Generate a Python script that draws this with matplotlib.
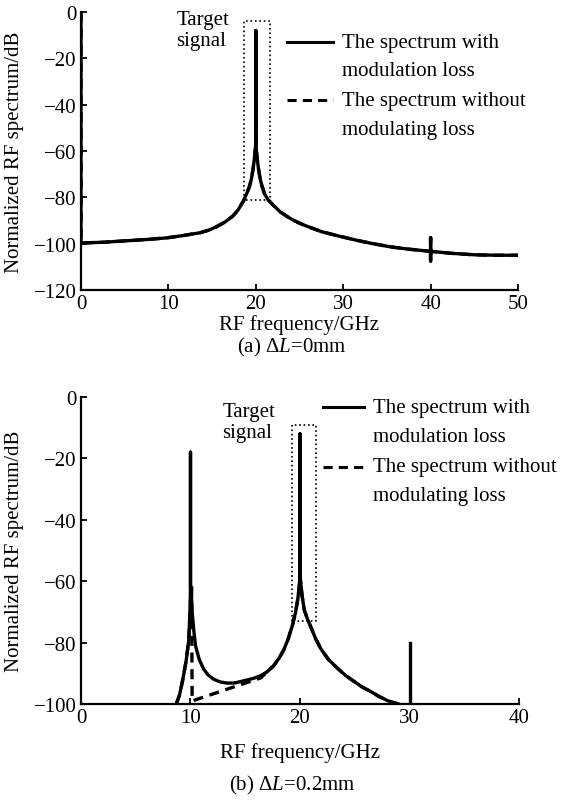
import matplotlib
matplotlib.use('Agg')
import matplotlib.pyplot as plt
import numpy as np

plt.rc('font', family='Liberation Serif', size=15)
plt.rc('mathtext', fontset='custom', rm='Liberation Serif',
       it='Liberation Serif:italic')

# (a) dL = 0 mm : spectrum (GHz, dB)
freq_a = [0, 0, 2.5, 5, 7.5, 9.8, 11.5, 13.6, 14.6, 15.5, 16.5, 17.4, 18.0,
          18.6, 19.0, 19.3, 19.5, 19.7, 19.85, 19.95, 20, 20, 20,
          20.05, 20.15, 20.3, 20.5, 20.7, 21.0, 21.4, 21.9, 22.8, 23.8, 24.8,
          25.8, 27.5, 29.6, 31.5, 33.4, 35.3, 37.3, 40, 40, 40, 40,
          42.5, 45, 47.5, 50]
db_a = [0, -99.7, -99.4, -98.8, -98.2, -97.5, -96.6, -95.3, -94.2, -92.7,
        -90.6, -88, -85.3, -81.5, -78, -75, -72, -67.5, -63, -59, -57, -8, -57,
        -59, -63, -67.5, -72, -75, -78.5, -81, -83, -86.3, -88.8, -90.8,
        -92.4, -94.8, -96.8, -98.5, -100, -101.3, -102.3, -103.3, -97.5,
        -107.5, -103.3, -104.2, -104.8, -105, -105]
box_a_x = [18.6, 21.6]
box_a_y = [-81, -4]

# (b) dL = 0.2 mm
freq_b = [8.7, 9.0, 9.3, 9.6, 9.85, 9.95, 10.0, 10.0, 10.0, 10.05, 10.15,
          10.3, 10.46, 10.8, 11.2, 11.6, 12.1, 12.7, 13.4, 14.1, 14.9, 15.7,
          16.4, 17.0, 17.6, 18.1, 18.5, 18.9, 19.3, 19.6, 19.8, 19.95, 20.0,
          20.0, 20.0, 20.05, 20.2, 20.4, 20.7, 21.0, 21.4, 21.9, 22.6, 23.5,
          24.2, 25.0, 25.7, 26.5, 27.2, 28.0, 28.5, 29.0]
db_b = [-100, -97, -92, -86, -79, -70, -62, -18, -62, -62, -70,
        -76, -81, -85.5, -88.6, -90.5, -91.9, -92.8, -93.2, -93.1, -92.4, -91.7,
        -90.8, -89.5, -87.5, -85, -82.5, -79, -74.5, -70, -65.8, -61, -58,
        -12, -58, -60, -65, -69.5, -72.5, -75, -78.5, -82, -85.5, -88.6,
        -90.8, -92.8, -94.5, -96, -97.5, -98.9, -99.5, -100]
freq_b_nl = [8.7, 9.0, 9.3, 9.6, 9.85, 9.95, 10.1, 10.15, 16.4, 17.0, 17.6,
             18.1, 18.5, 18.9, 19.3, 19.6, 19.8, 19.95, 20.0, 20.05, 20.2,
             20.4, 20.7, 21.0, 21.4, 21.9, 22.6, 23.5, 24.2, 25.0, 25.7, 26.5,
             27.2, 28.0, 28.5, 29.0]
db_b_nl = [-100, -97, -92, -86, -79, -70, -62, -99, -91.5, -89.5, -87.5,
           -85, -82.5, -79, -74.5, -70, -65.8, -61, -58, -60, -65,
           -69.5, -72.5, -75, -78.5, -82, -85.5, -88.6, -90.8, -92.8, -94.5, -96,
           -97.5, -98.9, -99.5, -100]
spur_b_x = [30, 30]
spur_b_y = [-100, -80]
box_b_x = [19.3, 21.5]
box_b_y = [-73, -9]

lab_with = 'The spectrum with\nmodulation loss'
lab_without = 'The spectrum without\nmodulating loss'


def style(ax):
    for s in ['top', 'right']:
        ax.spines[s].set_visible(False)
    for s in ['left', 'bottom']:
        ax.spines[s].set_linewidth(1.6)
    ax.tick_params(direction='in', length=4, width=1.3, pad=3)


def draw_box(ax, bx, by):
    ax.plot([bx[0], bx[0], bx[1], bx[1], bx[0]],
            [by[0], by[1], by[1], by[0], by[0]],
            ls=':', color='black', lw=1.2)


def legend(ax, x0, x1, xt, ys):
    ax.plot([x0, x1], [ys[0], ys[0]], '-', color='black', lw=2.2,
            transform=ax.transAxes, clip_on=False)
    ax.plot([x0, x1], [ys[2], ys[2]], '--', color='black', lw=2.2,
            dashes=(3, 2), transform=ax.transAxes, clip_on=False)
    for y, t in zip(ys, lab_with.split('\n') + lab_without.split('\n')):
        ax.text(xt, y, t, transform=ax.transAxes, va='center', ha='left')


fig = plt.figure(figsize=(5.62, 8.03), dpi=100)

# ---- (a)
ax1 = fig.add_axes([0.1441, 0.6376, 0.7776, 0.3462])
ax1.plot(freq_a, db_a, '--', color='black', lw=2.4, dashes=(3, 2))
ax1.plot(freq_a, db_a, '-', color='black', lw=2.4)
draw_box(ax1, box_a_x, box_a_y)
ax1.set_xlim(0, 50)
ax1.set_ylim(-120, 0)
ax1.set_xticks(np.arange(0, 51, 10))
ax1.set_yticks(np.arange(-120, 1, 20))
style(ax1)
ax1.text(10.9, 0.8, 'Target\nsignal', va='top', ha='left', linespacing=1.15)
legend(ax1, 0.471, 0.577, 0.597, [0.892, 0.788, 0.683, 0.579])
ax1.set_xlabel('RF frequency/GHz')
ax1.set_ylabel('Normalized RF spectrum/dB')
ax1.xaxis.set_label_coords(0.5, -0.085)
ax1.yaxis.set_label_coords(-0.13, 0.5)
fig.text(0.52, 1 - 347 / 803, r'(a) $\Delta L$=0mm', ha='center', va='center')

# ---- (b)
ax2 = fig.add_axes([0.1441, 0.1220, 0.7794, 0.3824])
ax2.plot(freq_b, db_b, '-', color='black', lw=2.4)
ax2.plot(spur_b_x, spur_b_y, '-', color='black', lw=2.4)
ax2.plot(freq_b_nl, db_b_nl, '--', color='black', lw=2.4, dashes=(3, 2))
draw_box(ax2, box_b_x, box_b_y)
ax2.set_xlim(0, 40)
ax2.set_ylim(-100, 0)
ax2.set_xticks(np.arange(0, 41, 10))
ax2.set_yticks(np.arange(-100, 1, 20))
style(ax2)
ax2.text(12.9, -1.5, 'Target\nsignal', va='top', ha='left', linespacing=1.15)
legend(ax2, 0.552, 0.647, 0.666, [0.967, 0.870, 0.772, 0.678])
ax2.set_xlabel('RF frequency/GHz')
ax2.set_ylabel('Normalized RF spectrum/dB')
ax2.xaxis.set_label_coords(0.5, -0.125)
ax2.yaxis.set_label_coords(-0.13, 0.5)
fig.text(0.52, 1 - 785 / 803, r'(b) $\Delta L$=0.2mm', ha='center', va='center')

fig.savefig('out.png', dpi=100)
